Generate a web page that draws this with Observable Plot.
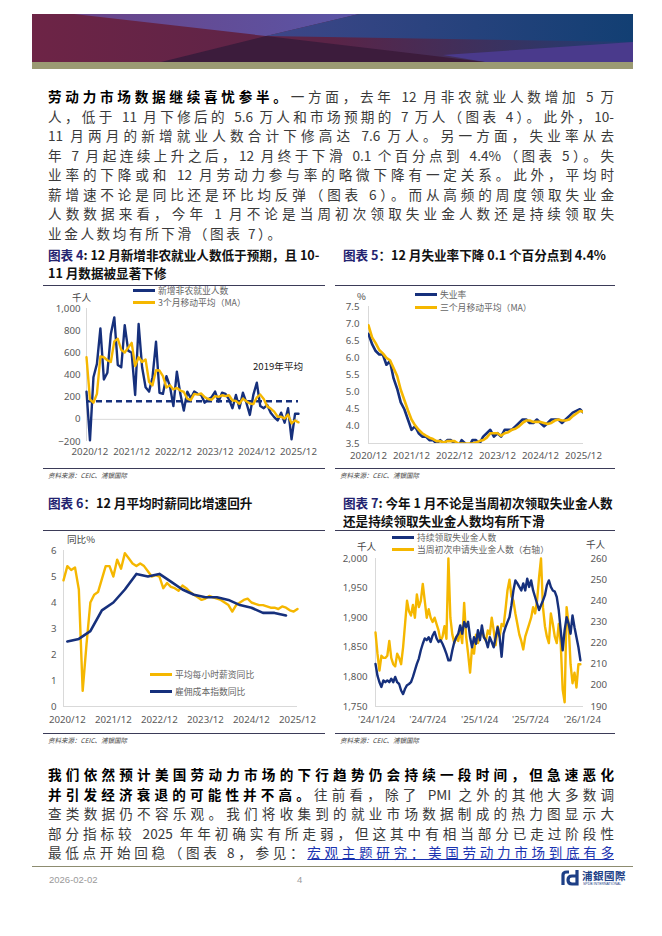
<!DOCTYPE html>
<html><head><meta charset="utf-8">
<script src="https://cdn.jsdelivr.net/npm/d3@7"></script>
<script src="https://cdn.jsdelivr.net/npm/@observablehq/plot@0.6"></script>
<style>
body{margin:0;background:#fff;}
#page{position:relative;width:662px;height:936px;overflow:hidden;font-family:"Noto Sans CJK SC","Noto Sans",sans-serif;color:#333;background:#fff;}
.abs{position:absolute;}
.para{position:absolute;left:48px;width:566px;}
.para div{height:19.5px;line-height:19.5px;font-size:13.6px;text-align:justify;text-align-last:justify;color:#3a3a3a;}
.para div.last{text-align-last:left;letter-spacing:2.6px;}
.para b{color:#000;font-weight:700;}
.ctitle{position:absolute;font-size:12.6px;font-weight:700;color:#111;line-height:17.5px;}
.ctitle .tag{color:#232370;}
.rule{position:absolute;height:0;border-top:1px solid #3b3b58;}
.src{position:absolute;font-size:6.5px;color:#444;font-style:italic;}
.lg{position:absolute;font-size:8.8px;color:#666;white-space:nowrap;line-height:10px;}
.sw{display:inline-block;width:22px;height:3px;vertical-align:middle;margin-right:3px;position:relative;top:-1px;}
.unit{position:absolute;font-size:9.6px;color:#444;white-space:nowrap;line-height:11px;}
</style></head>
<body>
<div id="page">
<svg class="abs" style="left:0;top:0" width="662" height="75">
  <defs>
    <linearGradient id="gBase" x1="0" x2="1"><stop offset="0" stop-color="#6d2446"/><stop offset="0.5" stop-color="#5a2447"/><stop offset="1" stop-color="#1f3d74"/></linearGradient>
    <linearGradient id="gPur" x1="0" x2="1"><stop offset="0" stop-color="#6a4488"/><stop offset="1" stop-color="#5a55a6"/></linearGradient>
    <linearGradient id="gNav" x1="0" x2="1"><stop offset="0" stop-color="#3e4688"/><stop offset="1" stop-color="#123f73"/></linearGradient>
  </defs>
  <rect x="32" y="14" width="601" height="48" fill="url(#gBase)"/>
  <polygon points="74,14 359,14 266,36" fill="url(#gPur)"/>
  <polygon points="359,14 633,14 633,42 266,36" fill="url(#gNav)"/>
  <polygon points="443,55 633,42 633,62 485,62" fill="#4a3a8c"/>
  <polygon points="161,62 266,36 485,62" fill="#3c1c3c"/>
  <rect x="32" y="62" width="601" height="7" fill="#9b9a73"/>
</svg>

<div class="para" style="top:87px">
<div><b>劳动力市场数据继续喜忧参半。</b>一方面，去年 12 月非农就业人数增加 5 万</div>
<div>人，低于 11 月下修后的 5.6 万人和市场预期的 7 万人（图表 4）。此外，10-</div>
<div>11 月两月的新增就业人数合计下修高达 7.6 万人。另一方面，失业率从去</div>
<div>年 7 月起连续上升之后，12 月终于下滑 0.1 个百分点到 4.4%（图表 5）。失</div>
<div>业率的下降或和 12 月劳动力参与率的略微下降有一定关系。此外，平均时</div>
<div>薪增速不论是同比还是环比均反弹（图表 6）。而从高频的周度领取失业金</div>
<div>人数数据来看，今年 1 月不论是当周初次领取失业金人数还是持续领取失</div>
<div class="last">业金人数均有所下滑（图表 7）。</div>
</div>

<!-- Chart 4 -->
<div class="ctitle" style="left:48px;top:246px;width:275px;"><span class="tag">图表 4</span>: 12 月新增非农就业人数低于预期，且 10-<br>11 月数据被显著下修</div>
<div class="rule" style="left:43px;top:285px;width:282px;"></div>
<div id="c4" class="abs" style="left:48px;top:280px;"></div>
<div class="unit" style="left:72px;top:292px;">千人</div>
<div class="lg" style="left:133px;top:286px;"><span class="sw" style="background:#16307c"></span>新增非农就业人数</div>
<div class="lg" style="left:133px;top:298px;"><span class="sw" style="background:#f5b700"></span>3个月移动平均（MA）</div>
<div class="unit" style="left:253px;top:361px;color:#222;">2019年平均</div>
<div class="rule" style="left:43px;top:468px;width:282px;"></div>
<div class="src" style="left:48px;top:470px;">资料来源：CEIC、浦银国际</div>

<!-- Chart 5 -->
<div class="ctitle" style="left:343px;top:246px;"><span class="tag">图表 5</span>：12 月失业率下降 0.1 个百分点到 4.4%</div>
<div class="rule" style="left:335px;top:285px;width:280px;"></div>
<div id="c5" class="abs" style="left:335px;top:280px;"></div>
<div class="unit" style="left:357px;top:291px;">%</div>
<div class="lg" style="left:415px;top:290px;"><span class="sw" style="background:#16307c"></span>失业率</div>
<div class="lg" style="left:415px;top:303px;"><span class="sw" style="background:#f5b700"></span>三个月移动平均（MA）</div>
<div class="rule" style="left:335px;top:468px;width:280px;"></div>
<div class="src" style="left:340px;top:470px;">资料来源：CEIC、浦银国际</div>

<!-- Chart 6 -->
<div class="ctitle" style="left:48px;top:494px;"><span class="tag">图表 6</span>：12 月平均时薪同比增速回升</div>
<div class="rule" style="left:43px;top:530px;width:282px;"></div>
<div id="c6" class="abs" style="left:48px;top:530px;"></div>
<div class="unit" style="left:67px;top:534px;">同比%</div>
<div class="lg" style="left:150px;top:670px;"><span class="sw" style="background:#f5b700"></span>平均每小时薪资同比</div>
<div class="lg" style="left:150px;top:687px;"><span class="sw" style="background:#16307c"></span>雇佣成本指数同比</div>
<div class="rule" style="left:43px;top:733px;width:282px;"></div>
<div class="src" style="left:48px;top:735px;">资料来源：CEIC、浦银国际</div>

<!-- Chart 7 -->
<div class="ctitle" style="left:343px;top:494px;"><span class="tag">图表 7</span>: 今年 1 月不论是当周初次领取失业金人数<br>还是持续领取失业金人数均有所下滑</div>
<div class="rule" style="left:335px;top:530px;width:280px;"></div>
<div id="c7" class="abs" style="left:335px;top:530px;"></div>
<div class="unit" style="left:357px;top:541px;">千人</div>
<div class="unit" style="left:586px;top:539px;">千人</div>
<div class="lg" style="left:392px;top:533px;"><span class="sw" style="background:#16307c"></span>持续领取失业金人数</div>
<div class="lg" style="left:392px;top:545px;"><span class="sw" style="background:#f5b700"></span>当周初次申请失业金人数（右轴）</div>
<div class="rule" style="left:335px;top:733px;width:280px;"></div>
<div class="src" style="left:340px;top:735px;">资料来源：CEIC、浦银国际</div>

<div class="para" style="top:765px">
<div><b>我们依然预计美国劳动力市场的下行趋势仍会持续一段时间，但急速恶化</b></div>
<div><b>并引发经济衰退的可能性并不高。</b>往前看，除了 PMI 之外的其他大多数调</div>
<div>查类数据仍不容乐观。我们将收集到的就业市场数据制成的热力图显示大</div>
<div>部分指标较 2025 年年初确实有所走弱，但这其中有相当部分已走过阶段性</div>
<div>最低点开始回稳（图表 8，参见：<span style="color:#1a33b0;text-decoration:underline;">宏观主题研究：美国劳动力市场到底有多</span></div>
</div>

<div class="abs" style="left:32px;top:866px;width:601px;height:1px;background:#8d8c70;"></div>
<div class="abs" style="left:49px;top:874px;font-size:9.5px;color:#9a9a9a;font-family:'Liberation Sans',sans-serif;">2026-02-02</div>
<div class="abs" style="left:297px;top:874px;font-size:9.5px;color:#9a9a9a;font-family:'Liberation Sans',sans-serif;">4</div>
<svg class="abs" style="left:560px;top:869px" width="20" height="18">
  <path d="M3,16 L3,6 Q3,3 7,3 L9,3" stroke="#1d3f86" stroke-width="3.2" fill="none"/>
  <path d="M17,1 L17,15 L12,15 Q8,15 8,11 Q8,7 12,7 L17,7" stroke="#1d3f86" stroke-width="3.2" fill="none"/>
</svg>
<div class="abs" style="left:582px;top:868px;font-size:10.5px;font-weight:700;color:#1d3f86;letter-spacing:0.5px;font-family:'Noto Sans CJK TC',sans-serif;">浦銀國際</div>
<div class="abs" style="left:583px;top:882px;font-size:3.5px;color:#1d3f86;font-family:'Liberation Sans',sans-serif;">SPDB INTERNATIONAL</div>
</div>

<script>
// ---------- Data ----------
const NAVY = "#16307c", GOLD = "#f5b700", AXIS = "#d9d9d9";
const monthTickLabels = ["2020/12","2021/12","2022/12","2023/12","2024/12","2025/12"];
const monthTickIdx = [0,12,24,36,48,60];

// Chart 4: NFP change (thousand), monthly from 2020/11 to 2025/12
const nfpValues = [250,-190,380,500,820,360,420,770,920,490,470,850,620,600,220,860,470,290,250,380,700,240,230,390,300,120,430,230,80,250,190,250,230,220,150,180,200,250,160,240,230,180,100,220,100,240,150,40,220,330,120,100,130,60,20,-10,60,-30,100,-180,50,50];
const nfpMA = [560,180,150,230,567,560,533,517,703,727,627,603,647,690,480,560,517,540,337,307,443,440,390,287,307,270,283,260,247,187,173,230,223,233,200,183,177,210,203,217,210,217,170,167,140,187,163,143,137,197,223,183,117,97,70,23,23,7,43,-37,-10,-27];
const avg2019 = 163;
const nfpYTicks = [-200,0,200,400,600,800,1000];

// Chart 5: unemployment rate (%), monthly 2020/12 - 2025/12 (2025/10 not published)
const unempValues = [6.7,6.4,6.2,6.1,6.1,5.8,5.9,5.4,5.1,4.7,4.5,4.2,3.9,4.0,3.8,3.7,3.7,3.6,3.6,3.5,3.6,3.5,3.6,3.6,3.5,3.4,3.6,3.5,3.4,3.6,3.6,3.5,3.7,3.8,3.9,3.7,3.8,3.7,3.9,3.9,3.9,4.0,4.1,4.2,4.2,4.1,4.1,4.2,4.1,4.0,4.1,4.2,4.2,4.2,4.1,4.2,4.3,4.4,null,4.5,4.4];
const unempMA = [6.95,6.6,6.43,6.23,6.13,6.0,5.93,5.7,5.47,5.07,4.77,4.47,4.2,4.03,3.9,3.8,3.73,3.67,3.63,3.57,3.57,3.53,3.57,3.57,3.57,3.5,3.5,3.5,3.5,3.5,3.53,3.57,3.6,3.67,3.8,3.8,3.8,3.73,3.8,3.83,3.9,3.93,4.0,4.1,4.17,4.17,4.13,4.13,4.13,4.1,4.07,4.1,4.17,4.2,4.17,4.17,4.2,4.3,null,4.45,4.43];
const unempYTicks = [3.5,4.0,4.5,5.0,5.5,6.0,6.5,7.0,7.5];

// Chart 6: wages YoY (%), AHE monthly 2020/11 - 2025/12; ECI quarterly 2020Q4 - 2025Q3
const aheValues = [4.85,5.4,5.25,5.35,4.5,0.6,2.4,4.0,4.3,4.4,4.9,5.4,5.4,5.0,5.65,5.3,5.9,5.7,5.5,5.4,5.5,5.4,5.2,5.0,5.05,5.0,4.55,4.75,4.6,4.55,4.45,4.65,4.55,4.4,4.3,4.2,4.1,4.15,4.25,4.2,4.15,4.1,4.0,3.9,3.65,3.9,4.0,4.1,4.15,4.0,3.95,3.9,3.9,3.85,3.8,3.8,3.75,3.85,3.8,3.7,3.65,3.75];
const eciValues = [2.5,2.6,2.9,3.7,4.0,4.5,5.1,5.0,5.1,4.8,4.5,4.3,4.2,4.2,4.1,3.9,3.8,3.6,3.6,3.5];
const wageYTicks = [0,1,2,3,4,5,6];

// Chart 7: weekly claims (thousand), weeks ending 2024-01-20 .. 2026-01-17
const claimsStart = "2024-01-20";
const continuingClaims = [1822,1802,1791,1783,1794,1791,1794,1791,1797,1791,1800,1791,1788,1777,1771,1780,1786,1788,1791,1800,1811,1822,1831,1845,1856,1865,1862,1867,1859,1870,1876,1865,1859,1862,1856,1848,1839,1828,1828,1845,1859,1867,1873,1887,1873,1893,1884,1893,1867,1850,1867,1856,1879,1862,1887,1867,1862,1850,1867,1859,1850,1867,1884,1867,1834,1873,1884,1893,1901,1921,1946,1963,1958,1952,1946,1958,1946,1966,1952,1963,1946,1935,1924,1913,1921,1929,1938,1955,1963,1952,1946,1944,1935,1913,1879,1845,1879,1901,1890,1873,1904,1884,1867,1850,1828];
const initialClaims = [225,215,207,214,213,213,214,221,213,210,209,215,213,210,218,229,240,235,233,238,232,243,237,240,248,240,232,236,232,230,232,229,226,221,223,228,222,260,232,224,220,223,221,226,220,239,223,215,206,218,215,224,220,223,226,223,221,226,224,232,226,219,228,223,229,228,236,245,250,242,240,234,229,224,221,217,223,226,229,232,237,234,240,251,260,237,228,223,220,234,229,223,220,229,220,198,192,237,229,210,201,206,199,210,210];
const claimsTickDates = ["2024-01-24","2024-07-24","2025-01-24","2025-07-24","2026-01-24"];
const claimsTickLabels = ["'24/1/24","'24/7/24","'25/1/24","'25/7/24","'26/1/24"];
const leftYTicks = [1750,1800,1850,1900,1950,2000];
const rightYTicks = [190,200,210,220,230,240,250,260];

// ---------- Helpers ----------
const baseStyle = {fontFamily: "'Noto Sans','Noto Sans CJK SC',sans-serif", fontSize: "9.7px", color: "#595959", background: "transparent", overflow: "visible"};
const monthLabel = d => monthTickLabels[monthTickIdx.indexOf(d)];

// ---------- Chart 4 ----------
{
  const bars = nfpValues.map((v, i) => ({m: i - 1, v}));
  const ma = nfpMA.map((v, i) => ({m: i - 1, v}));
  const p = Plot.plot({
    width: 272, height: 188, marginLeft: 38, marginRight: 22, marginTop: 28, marginBottom: 27,
    style: baseStyle,
    x: {domain: [-1, 60], label: null},
    y: {domain: [-200, 1000], label: null},
    marks: [
      Plot.ruleY([0], {stroke: AXIS, strokeWidth: 1}),
      Plot.ruleX([-1], {stroke: AXIS, strokeWidth: 1}),
      Plot.ruleY([avg2019], {stroke: NAVY, strokeWidth: 2.6, strokeDasharray: "6,4"}),
      Plot.line(bars, {x: "m", y: "v", stroke: NAVY, strokeWidth: 2.4}),
      Plot.line(ma, {x: "m", y: "v", stroke: GOLD, strokeWidth: 2.4}),
      Plot.axisY({ticks: nfpYTicks, tickFormat: d3.format(","), tickSize: 0, tickPadding: 6, label: null}),
      Plot.axisX({ticks: monthTickIdx, tickFormat: monthLabel, tickSize: 0, tickPadding: 7, label: null})
    ]
  });
  document.getElementById("c4").appendChild(p);
}

// ---------- Chart 5 ----------
{
  const u = unempValues.map((v, i) => ({m: i, v})).filter(d => d.v != null);
  const ma = unempMA.map((v, i) => ({m: i, v})).filter(d => d.v != null);
  const p = Plot.plot({
    width: 280, height: 188, marginLeft: 33, marginRight: 32, marginTop: 26, marginBottom: 25,
    style: baseStyle,
    x: {domain: [0, 60], label: null},
    y: {domain: [3.5, 7.5], label: null},
    marks: [
      Plot.ruleY([3.5], {stroke: AXIS}),
      Plot.ruleX([0], {stroke: AXIS}),
      Plot.line(u, {x: "m", y: "v", stroke: NAVY, strokeWidth: 2.6, clip: true}),
      Plot.line(ma, {x: "m", y: "v", stroke: GOLD, strokeWidth: 2.6, clip: true}),
      Plot.axisY({ticks: unempYTicks, tickFormat: d3.format(".1f"), tickSize: 0, tickPadding: 9, label: null}),
      Plot.axisX({ticks: monthTickIdx, tickFormat: monthLabel, tickSize: 0, tickPadding: 9, label: null})
    ]
  });
  document.getElementById("c5").appendChild(p);
}

// ---------- Chart 6 ----------
{
  const ahe = aheValues.map((v, i) => ({m: i - 1, v}));
  const eci = eciValues.map((v, i) => ({m: i * 3, v}));
  const p = Plot.plot({
    width: 272, height: 203, marginLeft: 15, marginRight: 23, marginTop: 20, marginBottom: 27,
    style: baseStyle,
    x: {domain: [-1, 60], label: null},
    y: {domain: [0, 6], label: null},
    marks: [
      Plot.ruleY([0], {stroke: AXIS}),
      Plot.ruleX([-1], {stroke: AXIS}),
      Plot.line(ahe, {x: "m", y: "v", stroke: GOLD, strokeWidth: 2.4}),
      Plot.line(eci, {x: "m", y: "v", stroke: NAVY, strokeWidth: 2.6}),
      Plot.axisY({ticks: wageYTicks, tickFormat: d3.format("d"), tickSize: 0, tickPadding: 7, label: null}),
      Plot.axisX({ticks: monthTickIdx, tickFormat: monthLabel, tickSize: 0, tickPadding: 10, label: null})
    ]
  });
  document.getElementById("c6").appendChild(p);
}

// ---------- Chart 7 ----------
{
  const start = new Date(claimsStart + "T00:00:00Z");
  const wk = i => new Date(start.getTime() + i * 7 * 864e5);
  const toLeft = v => 1750 + (v - 190) * 250 / 70;
  const fromLeft = y => Math.round(190 + (y - 1750) * 70 / 250);
  const cont = continuingClaims.map((v, i) => ({d: wk(i), v}));
  const init = initialClaims.map((v, i) => ({d: wk(i), v}));
  const tickDates = claimsTickDates.map(s => new Date(s + "T00:00:00Z"));
  const p = Plot.plot({
    width: 280, height: 203, marginLeft: 40, marginRight: 32, marginTop: 28, marginBottom: 27,
    style: baseStyle,
    x: {type: "utc", domain: [new Date("2024-01-20T00:00:00Z"), new Date("2026-01-28T00:00:00Z")], label: null},
    y: {domain: [1750, 2000], label: null},
    marks: [
      Plot.ruleY([1750], {stroke: AXIS}),
      Plot.ruleX([new Date("2024-01-20T00:00:00Z")], {stroke: AXIS}),
      Plot.line(init, {x: "d", y: d => toLeft(d.v), stroke: GOLD, strokeWidth: 2.4}),
      Plot.line(cont, {x: "d", y: "v", stroke: NAVY, strokeWidth: 2.4}),
      Plot.axisY({ticks: leftYTicks, tickFormat: d3.format(","), tickSize: 0, tickPadding: 8, label: null}),
      Plot.axisY({anchor: "right", ticks: rightYTicks.map(toLeft), tickFormat: fromLeft, tickSize: 0, tickPadding: 7, label: null}),
      Plot.axisX({ticks: tickDates, tickFormat: d => claimsTickLabels[tickDates.findIndex(t => +t === +d)], tickSize: 0, tickPadding: 10, label: null})
    ]
  });
  document.getElementById("c7").appendChild(p);
}
</script>
</body></html>
